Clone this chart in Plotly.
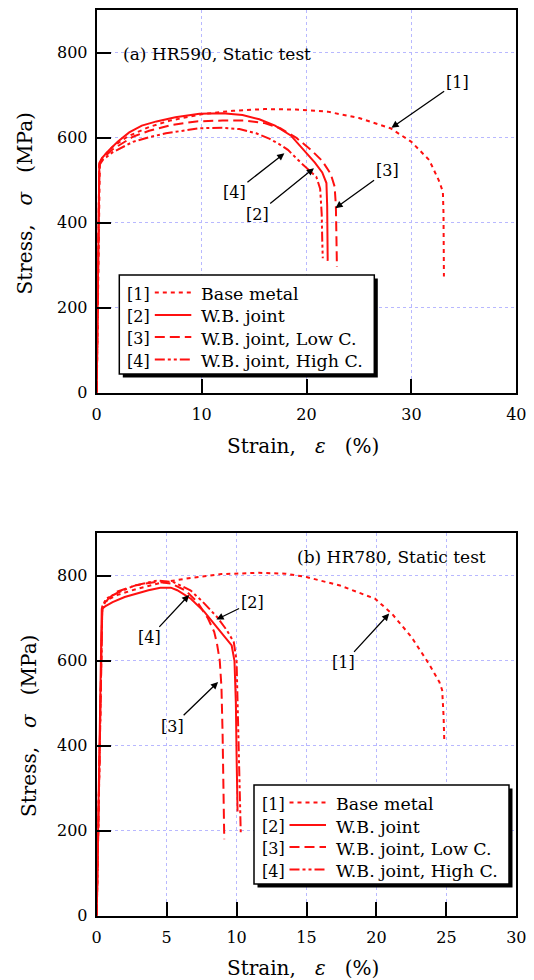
import plotly.graph_objects as go

# ---------------- data: panel (a) HR590, static test ----------------
a_base_x = [0, 0.3, 0.6, 1.5, 3, 5, 7, 10, 13, 16, 19, 22, 25, 28, 30, 31.7, 32.6, 33.0, 33.06, 33.1]
a_base_y = [0, 540, 555, 578, 603, 625, 640, 655, 663, 667, 666, 661, 646, 622, 590, 547, 500, 473, 422, 273]

a_wb_x = [0, 0.25, 0.5, 1.2, 2, 3.1, 4.3, 5.7, 7.5, 9.8, 12, 13.9, 15.5, 17, 18.5, 19.68, 20.8, 21.5, 21.9, 21.97, 22.0, 22.02]
a_wb_y = [0, 540, 552, 571, 590, 612, 628, 638, 648, 656, 657, 653, 643, 628, 605, 571, 541, 518, 493, 440, 370, 310]

a_low_x = [0, 0.25, 0.6, 1.5, 3.45, 5, 7.2, 9.5, 12, 14.2, 16, 17.5, 19, 20.43, 21.5, 22.3, 22.68, 22.8, 22.85, 22.9]
a_low_y = [0, 538, 552, 572, 602, 616, 630, 638, 640, 640, 634, 622, 600, 571, 545, 515, 485, 440, 370, 296]

a_high_x = [0, 0.25, 0.6, 1.5, 3.45, 5, 6.6, 9.76, 12, 13.6, 15.2, 16.5, 17.5, 18.23, 19.5, 20.93, 21.3, 21.45, 21.5, 21.55]
a_high_y = [0, 535, 548, 565, 590, 601, 610, 622, 623, 620, 610, 597, 583, 571, 540, 508, 480, 420, 360, 316]

# ---------------- data: panel (b) HR780, static test ----------------
b_base_x = [0, 0.4, 0.66, 1.5, 2.84, 4.79, 6.73, 8.92, 11.6, 13.5, 15.0, 17.4, 19.9, 21.1, 22.5, 23.75, 24.5, 24.7, 24.8, 24.85]
b_base_y = [0, 722, 742, 755, 769, 785, 795, 804, 807, 805, 797, 777, 746, 711, 656, 593, 550, 531, 470, 413]

b_wb_x = [0, 0.36, 0.6, 1.14, 2.0, 2.84, 3.7, 4.55, 5.3, 5.76, 6.73, 7.7, 8.68, 9.4, 9.65, 9.85, 9.95, 10.0, 10.07]
b_wb_y = [0, 722, 728, 738, 750, 758, 766, 772, 772, 766, 746, 715, 675, 648, 636, 600, 500, 380, 245]

b_low_x = [0, 0.4, 0.8, 1.39, 2.84, 4.3, 5.3, 6.37, 7.2, 7.95, 8.4, 8.6, 8.8, 8.92, 9.0, 9.04, 9.12]
b_low_y = [0, 725, 745, 762, 778, 786, 782, 765, 738, 700, 668, 640, 600, 538, 430, 351, 180]

b_high_x = [0, 0.4, 0.67, 1.5, 2.7, 4.35, 5.5, 6.7, 7.6, 8.6, 9.3, 9.8, 10.0, 10.1, 10.2, 10.3]
b_high_y = [0, 728, 746, 760, 777, 789, 785, 766, 738, 703, 672, 644, 600, 480, 350, 195]

# ticks
a_xticks = [0, 10, 20, 30, 40]
b_xticks = [0, 5, 10, 15, 20, 25, 30]
yticks = [0, 200, 400, 600, 800]

# legend entries
legend_tags = ["[1]", "[2]", "[3]", "[4]"]
legend_names = ["Base metal", "W.B. joint", "W.B. joint, Low C.", "W.B. joint, High C."]

# callouts: (label, tip x, tip y, label x, label y)
a_callouts = [("[1]", 28.1, 623, 34.36, 730),
              ("[3]", 22.76, 434, 27.68, 522),
              ("[4]", 17.89, 563, 13.13, 471),
              ("[2]", 20.71, 528, 15.3, 420)]
b_callouts = [("[2]", 8.56, 697, 11.11, 738),
              ("[4]", 6.61, 755, 3.74, 654),
              ("[1]", 20.91, 711, 17.68, 595),
              ("[3]", 8.68, 550, 5.40, 446)]

# ---------------- styling ----------------
W, H = 534, 980
PX_L, PX_R = 96.7, 516.3
A_TOP, A_BOT = 10.0, 392.7
B_TOP, B_BOT = 533.3, 915.7
RED = "#ff1010"
FONT = "DejaVu Serif"
DASH_DOT = "4px,4px"
DASH_DASH = "10px,5px"
DASH_DD = "10px,3px,3px,3px,3px,3px"
dashes = [DASH_DOT, "solid", DASH_DASH, DASH_DD]


def fx(p):
    return p / W


def fy(p):
    return 1 - p / H


fig = go.Figure()

series = [
    ("x", "y", [(a_base_x, a_base_y), (a_wb_x, a_wb_y), (a_low_x, a_low_y), (a_high_x, a_high_y)]),
    ("x2", "y2", [(b_base_x, b_base_y), (b_wb_x, b_wb_y), (b_low_x, b_low_y), (b_high_x, b_high_y)]),
]
for xa, ya, data in series:
    for (xs, ys), name, d in zip(data, legend_names, dashes):
        fig.add_trace(go.Scatter(x=xs, y=ys, mode="lines", name=name, showlegend=False,
                                 line=dict(color=RED, width=2, dash=d), xaxis=xa, yaxis=ya))

axis_common = dict(showline=True, linecolor="black", linewidth=2, mirror=True,
                   ticks="inside", ticklen=14, tickwidth=2, tickcolor="black",
                   showgrid=True, gridcolor="#b8b8ff", griddash="dot", gridwidth=1,
                   zeroline=False, automargin=False,
                   tickfont=dict(family=FONT, size=16, color="black"))

xdom = [fx(PX_L), fx(PX_R)]

fig.update_layout(
    width=W, height=H, margin=dict(l=0, r=0, t=0, b=0, pad=0, autoexpand=False),
    paper_bgcolor="white", plot_bgcolor="white", showlegend=False,
    font=dict(family=FONT, color="black"),
    xaxis=dict(axis_common, domain=xdom, range=[0, 40], tickvals=a_xticks, anchor="y",
               ticklabelstandoff=6),
    yaxis=dict(axis_common, domain=[fy(A_BOT), fy(A_TOP)], range=[0, 900], tickvals=yticks,
               anchor="x", ticklabelstandoff=4),
    xaxis2=dict(axis_common, domain=xdom, range=[0, 30], tickvals=b_xticks, anchor="y2",
                ticklabelstandoff=6),
    yaxis2=dict(axis_common, domain=[fy(B_BOT), fy(B_TOP)], range=[0, 900], tickvals=yticks,
                anchor="x2", ticklabelstandoff=4),
)

annotations = []
shapes = []

# axis titles
xtitle_text = "Strain,\u00a0\u00a0 <i>ε</i>\u00a0\u00a0 (%)"
ytitle_text = "Stress,\u00a0\u00a0 <i>σ</i>\u00a0\u00a0 (MPa)"
for xc, yc in ((303.0, 446.0), (303.0, 968.0)):
    annotations.append(dict(x=fx(xc), y=fy(yc), xref="paper", yref="paper", text=xtitle_text,
                            showarrow=False, xanchor="center", yanchor="middle",
                            font=dict(family=FONT, size=20, color="black")))
for xc, yc in ((24.5, 204.0), (29.0, 726.0)):
    annotations.append(dict(x=fx(xc), y=fy(yc), xref="paper", yref="paper", text=ytitle_text,
                            showarrow=False, xanchor="center", yanchor="middle", textangle=-90,
                            font=dict(family=FONT, size=20, color="black")))

# panel titles
annotations.append(dict(x=2.3, y=797, xref="x", yref="y", text="(a) HR590, Static test",
                        showarrow=False, xanchor="left", yanchor="middle",
                        font=dict(family=FONT, size=17, color="black")))
annotations.append(dict(x=28.0, y=844, xref="x2", yref="y2", text="(b) HR780, Static test",
                        showarrow=False, xanchor="right", yanchor="middle",
                        font=dict(family=FONT, size=17, color="black")))

# callout arrows
for xr, yr, callouts in (("x", "y", a_callouts), ("x2", "y2", b_callouts)):
    for lab, tx, ty, lx, ly in callouts:
        annotations.append(dict(x=tx, y=ty, ax=lx, ay=ly, xref=xr, yref=yr, axref=xr, ayref=yr,
                                text=lab, showarrow=True, arrowhead=2, arrowsize=1.1,
                                arrowwidth=1.3, arrowcolor="black", standoff=0,
                                font=dict(family=FONT, size=16, color="black")))

# hand-built legends (box with drop shadow)
LW, LH = 255, 99
ROWS = [19.0, 41.5, 63.5, 86.0]
SAMPLE_ROWS = [17.5, 40, 62, 84.5]
for bx, by in ((119.3, 275.0), (254.0, 785.0)):
    shapes.append(dict(type="rect", xref="paper", yref="paper", layer="above",
                       x0=fx(bx + 3.5), x1=fx(bx + LW + 3.5), y0=fy(by + 3.5), y1=fy(by + LH + 3.5),
                       fillcolor="black", line=dict(width=0)))
    shapes.append(dict(type="rect", xref="paper", yref="paper", layer="above",
                       x0=fx(bx), x1=fx(bx + LW), y0=fy(by), y1=fy(by + LH),
                       fillcolor="white", line=dict(color="black", width=1.5)))
    for r, rs, tag, name, d in zip(ROWS, SAMPLE_ROWS, legend_tags, legend_names, dashes):
        shapes.append(dict(type="line", xref="paper", yref="paper", layer="above",
                           x0=fx(bx + 35.5), x1=fx(bx + 72), y0=fy(by + rs), y1=fy(by + rs),
                           line=dict(color=RED, width=2, dash=d)))
        annotations.append(dict(x=fx(bx + 5.5), y=fy(by + r), xref="paper", yref="paper", text=tag,
                                showarrow=False, xanchor="left", yanchor="middle",
                                font=dict(family=FONT, size=16, color="black")))
        annotations.append(dict(x=fx(bx + 80), y=fy(by + r), xref="paper", yref="paper", text=name,
                                showarrow=False, xanchor="left", yanchor="middle",
                                font=dict(family=FONT, size=17.4, color="black")))

fig.update_layout(annotations=annotations, shapes=shapes)

fig.write_html("out.html", config={"displayModeBar": False},
               post_script="document.body.style.margin = '0';")
